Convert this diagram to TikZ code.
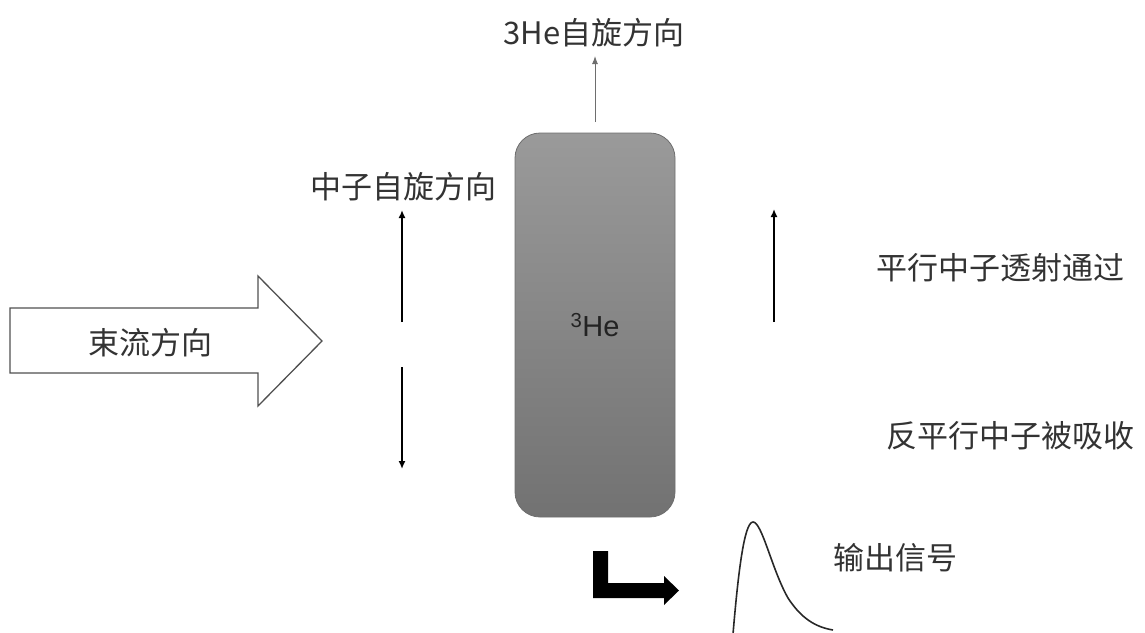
\documentclass[tikz,border=0pt]{standalone}
\usepackage{fontspec}
\setmainfont{Noto Sans CJK SC}
\newfontfamily\latinsans{Liberation Sans}
\usetikzlibrary{arrows.meta}
\definecolor{txt}{HTML}{333333}
\tikzset{
  lbl/.style={text=txt, font=\fontsize{31}{36}\selectfont, inner sep=0pt},
  spin/.style={draw=black, line width=1.6pt, -{Latex[length=8pt,width=7pt]}},
}
\begin{document}
\begin{tikzpicture}[x=1pt,y=-1pt]
\useasboundingbox (0,0) rectangle (1145,632);
% He-3 cell
\node[draw={rgb,255:red,110;green,110;blue,110}, line width=0.8pt, rounded corners=25pt,
      minimum width=160pt, minimum height=384pt, inner sep=0pt,
      top color={rgb,255:red,154;green,154;blue,154},
      bottom color={rgb,255:red,114;green,114;blue,114},
      text={rgb,255:red,35;green,35;blue,35}, font=\latinsans\fontsize{29}{34}\selectfont] (he) at (595,325) {\textsuperscript{3}He};
% top spin direction
\node[lbl] (hetitle) at (594,33) {3He自旋方向};
\coordinate (hetop) at (595,122);
\coordinate (hetip) at (595,56);
\draw[draw={rgb,255:red,110;green,110;blue,110}, line width=1pt, -{Latex[length=8pt,width=6pt]}] (hetop) -- (hetip);
% beam arrow
\draw[draw={rgb,255:red,80;green,80;blue,80}, line width=1.3pt, fill=white]
  (10,308) -- (258,308) -- (258,276) -- (322,341) -- (258,406) -- (258,373) -- (10,373) -- cycle;
\node[lbl] (beam) at (150,343) {束流方向};
% neutron spin
\node[lbl] (nspin) at (403,187) {中子自旋方向};
\coordinate (nu0) at (402,322);
\coordinate (nu1) at (402,210);
\coordinate (nd0) at (402,367);
\coordinate (nd1) at (402,469);
\draw[spin] (nu0) -- (nu1);
\draw[spin] (nd0) -- (nd1);
% transmitted
\coordinate (tu0) at (774,322);
\coordinate (tu1) at (774,209);
\draw[spin] (tu0) -- (tu1);
\node[lbl] (par) at (1000,268) {平行中子透射通过};
\node[lbl] (anti) at (1010,436) {反平行中子被吸收};
% bold L arrow
\fill[black] (593,551) -- (608,551) -- (608,583) -- (664,583) -- (664,576) -- (679,590.5) -- (664,605) -- (664,598) -- (593,598) -- cycle;
% pulse
\draw[line width=1.6pt, draw={rgb,255:red,40;green,40;blue,40}]
  (733,634) .. controls (738,575) and (744,522) .. (753,522)
  .. controls (762,522) and (772,570) .. (788,598)
  .. controls (801,618) and (815,627) .. (833,630);
\node[lbl] (sig) at (895,558) {输出信号};
\end{tikzpicture}
\end{document}
